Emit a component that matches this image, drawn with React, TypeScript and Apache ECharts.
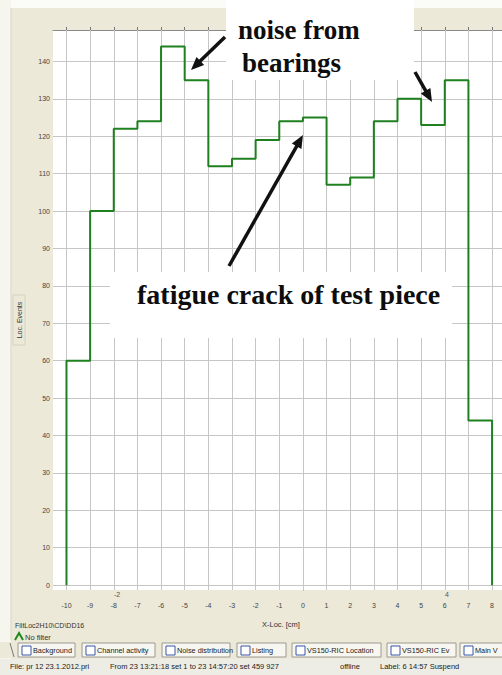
import React, { useEffect, useRef } from "react";
import * as echarts from "echarts";

// ---- data ----
const BIN_STARTS = [-10, -9, -8, -7, -6, -5, -4, -3, -2, -1, 0, 1, 2, 3, 4, 5, 6, 7];
const LOC_EVENTS = [60, 100, 122, 124, 144, 135, 112, 114, 119, 124, 125, 107, 109, 124, 130, 123, 135, 44];
const LAST_BIN_END = 8;
const X_TICKS = [-10, -9, -8, -7, -6, -5, -4, -3, -2, -1, 0, 1, 2, 3, 4, 5, 6, 7, 8];
const Y_TICKS = [0, 10, 20, 30, 40, 50, 60, 70, 80, 90, 100, 110, 120, 130, 140];
const X_MIN = -10.57;
const X_MAX = 8.42;
const Y_MIN = -1.3;
const Y_MAX = 148.4;
const TAB_NAMES = ["Background", "Channel activity", "Noise distribution", "Listing", "VS150-RIC Location", "VS150-RIC Ev", "Main V"];
const STATUS_TEXTS = ["File: pr 12 23.1.2012.pri", "From 23 13:21:18 set 1 to 23 14:57:20 set 459 927", "offline", "Label: 6 14:57 Suspend"];

// ---- layout ----
const TAB_LAYOUT = [
  [22, 78], [86, 158], [166, 233], [241, 289], [296, 384], [391, 459], [464, 512],
];
const STATUS_X = [10, 110, 340, 380];

const BEIGE = "#ece9d8";
const GREEN = "#1f801f";
const GRID_GRAY = "#c6c6c6";
const LABEL_FONT = "Liberation Sans, Arial, sans-serif";
const SERIF = "Liberation Serif, Times New Roman, serif";

function arrow(x1: number, y1: number, x2: number, y2: number) {
  const dx = x2 - x1, dy = y2 - y1;
  const len = Math.hypot(dx, dy);
  const ux = dx / len, uy = dy / len;
  const L = 13, W = 5.5;
  const bx = x2 - ux * L, by = y2 - uy * L;
  const px = -uy, py = ux;
  return [
    { type: "line", z: 101, silent: true, shape: { x1, y1, x2: bx + ux * 2, y2: by + uy * 2 }, style: { stroke: "#111", lineWidth: 3.5 } },
    { type: "polygon", z: 101, silent: true, shape: { points: [[x2, y2], [bx + px * W, by + py * W], [bx - px * W, by - py * W]] }, style: { fill: "#111" } },
  ];
}

export default function App() {
  const ref = useRef<HTMLDivElement>(null);

  useEffect(() => {
    if (!ref.current) return;
    const chart = echarts.init(ref.current, null, { renderer: "svg" });

    const stepData: number[][] = [[BIN_STARTS[0], 0]];
    BIN_STARTS.forEach((x, i) => stepData.push([x, LOC_EVENTS[i]]));
    stepData.push([LAST_BIN_END, 0]);

    const tabEls: any[] = [];
    TAB_NAMES.forEach((name, i) => {
      const [ix, end] = TAB_LAYOUT[i];
      tabEls.push({ type: "rect", z: 50, silent: true, shape: { x: ix - 4, y: 643, width: end - ix + 1, height: 14 }, style: { fill: "#f7f6f0", stroke: "#9c9a90", lineWidth: 1 } });
      tabEls.push({ type: "rect", z: 51, silent: true, shape: { x: ix, y: 646, width: 9, height: 9 }, style: { fill: "#ffffff", stroke: "#3a55a8", lineWidth: 1 } });
      tabEls.push({ type: "text", z: 51, silent: true, x: ix + 11, y: 650.5, style: { text: name, fontSize: 7.3, fontFamily: LABEL_FONT, fill: "#222", verticalAlign: "middle", align: "left" } });
    });

    const statusEls = STATUS_TEXTS.map((t, i) => ({
      type: "text", z: 51, silent: true, x: STATUS_X[i], y: 666,
      style: { text: t, fontSize: 7.5, fontFamily: LABEL_FONT, fill: "#222", verticalAlign: "middle", align: "left" },
    }));

    chart.setOption({
      animation: false,
      backgroundColor: BEIGE,
      grid: { left: 53, top: 30, right: 0, bottom: 85, show: true, backgroundColor: "#ffffff", borderWidth: 0 },
      xAxis: [
        {
          type: "value", min: X_MIN, max: X_MAX, position: "bottom", offset: 7,
          axisLine: { show: false },
          axisTick: { show: true, customValues: X_TICKS, length: 4, lineStyle: { color: "#555" } },
          axisLabel: { customValues: X_TICKS, fontSize: 7, fontFamily: LABEL_FONT, color: "#444", margin: 5 },
          splitLine: { show: false },
        },
        {
          type: "value", min: X_MIN, max: X_MAX, position: "top",
          axisLine: { show: true, lineStyle: { color: "#8a8a8a" } },
          axisTick: { show: true, customValues: X_TICKS, length: 3, lineStyle: { color: "#777" } },
          axisLabel: { show: false },
          splitLine: { show: false },
        },
      ],
      yAxis: {
        type: "value", min: Y_MIN, max: Y_MAX,
        axisLine: { show: true, lineStyle: { color: "#8a8a8a" } },
        axisTick: { show: true, customValues: Y_TICKS, length: 3, lineStyle: { color: "#666" } },
        axisLabel: { customValues: Y_TICKS, fontSize: 7, fontFamily: LABEL_FONT, color: "#444", margin: 3 },
        splitLine: { show: false },
      },
      series: [
        {
          type: "line",
          data: [],
          silent: true,
          z: 1,
          markLine: {
            silent: true,
            z: 1,
            symbol: ["none", "none"],
            label: { show: false },
            emphasis: { disabled: true },
            lineStyle: { color: GRID_GRAY, width: 1, type: "solid" },
            data: [
              ...X_TICKS.map((v) => ({ xAxis: v })),
              ...Y_TICKS.map((v) => ({ yAxis: v })),
            ],
          },
        },
        {
          type: "line",
          step: "end",
          data: stepData,
          z: 5,
          symbol: "none",
          silent: true,
          lineStyle: { color: GREEN, width: 2 },
        },
      ],
      graphic: {
        elements: [
          // page edge strips
          { type: "rect", silent: true, z: 0, shape: { x: 0, y: 0, width: 502, height: 8 }, style: { fill: "#fbfbf8" } },
          { type: "rect", silent: true, z: 0, shape: { x: 0, y: 0, width: 11, height: 675 }, style: { fill: "#f6f5ee" } },
          { type: "line", silent: true, z: 0, shape: { x1: 11, y1: 8, x2: 11, y2: 640 }, style: { stroke: "#d8d5c6", lineWidth: 1 } },
          // y axis title box
          { type: "rect", silent: true, z: 10, shape: { x: 13, y: 295, width: 12, height: 50 }, style: { fill: "none", stroke: "#d6d2c2", lineWidth: 1 } },
          { type: "text", silent: true, z: 10, x: 19, y: 320, rotation: Math.PI / 2, style: { text: "Loc. Events", fontSize: 7, fontFamily: LABEL_FONT, fill: "#333", align: "center", verticalAlign: "middle" } },
          // x axis title and cursor marks
          { type: "text", silent: true, z: 10, x: 281, y: 624, style: { text: "X-Loc. [cm]", fontSize: 7.5, fontFamily: LABEL_FONT, fill: "#333", align: "center", verticalAlign: "middle" } },
          { type: "text", silent: true, z: 10, x: 117, y: 594, style: { text: "-2", fontSize: 7, fontFamily: LABEL_FONT, fill: "#555", align: "center", verticalAlign: "middle" } },
          { type: "text", silent: true, z: 10, x: 447, y: 594, style: { text: "4", fontSize: 7, fontFamily: LABEL_FONT, fill: "#555", align: "center", verticalAlign: "middle" } },
          // file / filter
          { type: "text", silent: true, z: 10, x: 15, y: 625, style: { text: "FiltLoc2H10\\CD\\DD16", fontSize: 7, fontFamily: LABEL_FONT, fill: "#333", align: "left", verticalAlign: "middle" } },
          { type: "polyline", silent: true, z: 10, shape: { points: [[15, 640], [19, 633], [23, 640]] }, style: { stroke: "#1c8a1c", lineWidth: 2, fill: "none" } },
          { type: "text", silent: true, z: 10, x: 25, y: 637, style: { text: "No filter", fontSize: 7.5, fontFamily: LABEL_FONT, fill: "#333", align: "left", verticalAlign: "middle" } },
          // tab strip
          { type: "rect", silent: true, z: 49, shape: { x: 0, y: 642, width: 502, height: 16 }, style: { fill: BEIGE } },
          { type: "line", silent: true, z: 50, shape: { x1: 10, y1: 643, x2: 14, y2: 657 }, style: { stroke: "#777", lineWidth: 1 } },
          ...tabEls,
          // status bar
          { type: "rect", silent: true, z: 49, shape: { x: 0, y: 659, width: 502, height: 16 }, style: { fill: "#eeede5" } },
          ...statusEls,
          // annotation boxes
          { type: "rect", silent: true, z: 100, shape: { x: 226, y: 0, width: 188, height: 80 }, style: { fill: "#ffffff" } },
          { type: "rect", silent: true, z: 100, shape: { x: 110, y: 272, width: 342, height: 66 }, style: { fill: "#ffffff" } },
          { type: "text", silent: true, z: 101, x: 238, y: 30, style: { text: "noise from", fontSize: 27, fontWeight: "bold", fontFamily: SERIF, fill: "#0d0d0d", align: "left", verticalAlign: "middle" } },
          { type: "text", silent: true, z: 101, x: 242, y: 63, style: { text: "bearings", fontSize: 27, fontWeight: "bold", fontFamily: SERIF, fill: "#0d0d0d", align: "left", verticalAlign: "middle" } },
          { type: "text", silent: true, z: 101, x: 137, y: 294, style: { text: "fatigue crack of test piece", fontSize: 28, fontWeight: "bold", fontFamily: SERIF, fill: "#0d0d0d", align: "left", verticalAlign: "middle" } },
          ...arrow(225, 37, 191, 70),
          ...arrow(415, 72, 432, 102),
          ...arrow(229, 266, 303, 135),
        ],
      },
    });

    return () => chart.dispose();
  }, []);

  return <div ref={ref} style={{ position: "absolute", left: 0, top: 0, width: 502, height: 675 }} />;
}
